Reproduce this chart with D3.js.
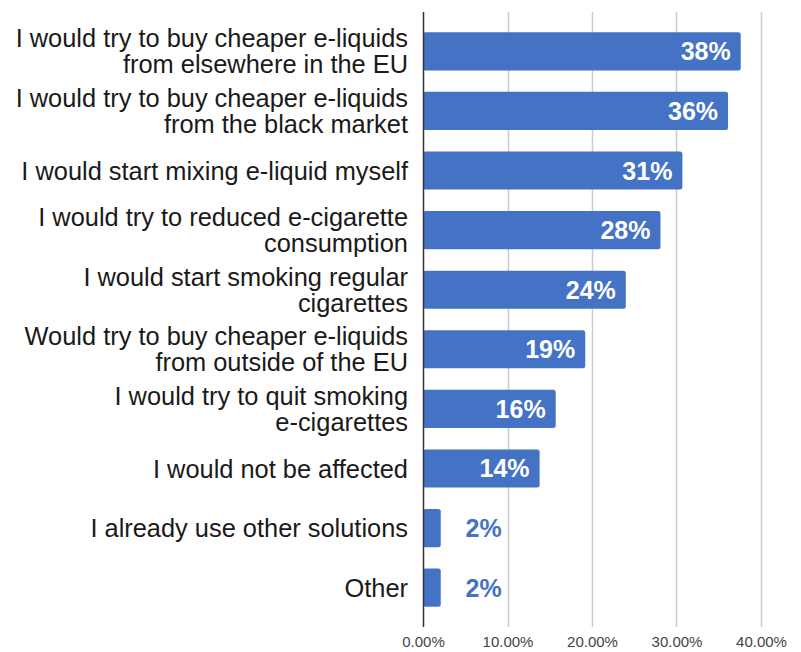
<!DOCTYPE html>
<html>
<head>
<meta charset="utf-8">
<script src="https://cdn.jsdelivr.net/npm/d3@7"></script>
<style>
  body { margin: 0; background: #fff; }
  svg { display: block; font-family: "Liberation Sans", Arial, sans-serif; }
  .cat { font-size: 25.4px; fill: #1a1a1a; }
  .tick text { font-size: 15px; fill: #444; font-family: "Liberation Sans", Arial, sans-serif; }
</style>
</head>
<body>
<svg width="801" height="652"></svg>
<script>
// answers, one entry per bar (line breaks as shown in the chart)
var categories = [
  "I would try to buy cheaper e-liquids\nfrom elsewhere in the EU",
  "I would try to buy cheaper e-liquids\nfrom the black market",
  "I would start mixing e-liquid myself",
  "I would try to reduced e-cigarette\nconsumption",
  "I would start smoking regular\ncigarettes",
  "Would try to buy cheaper e-liquids\nfrom outside of the EU",
  "I would try to quit smoking\ne-cigarettes",
  "I would not be affected",
  "I already use other solutions",
  "Other"
];
var shares = [0.376, 0.361, 0.307, 0.281, 0.240, 0.192, 0.157, 0.138, 0.021, 0.021];
var tickValues = [0, 0.1, 0.2, 0.3, 0.4];

var data = categories.map(function(c, i) { return {cat: c, value: shares[i]}; });

var svg = d3.select("svg");
var blue = "#4472c4";

var x = d3.scaleLinear().domain([0, 0.4]).range([423, 761]);
var y = d3.scaleBand()
  .domain(categories)
  .range([12, 627])
  .paddingInner(0.36)
  .paddingOuter(0.34);

// gridlines
svg.append("g").selectAll("line")
  .data(tickValues.slice(1))
  .enter()
  .append("line")
  .attr("x1", function(d) { return Math.round(x(d)) + 0.5; })
  .attr("x2", function(d) { return Math.round(x(d)) + 0.5; })
  .attr("y1", 12)
  .attr("y2", 627)
  .attr("stroke", "#cccccc")
  .attr("stroke-width", 1.5);

// bottom tick labels
var xAxis = svg.append("g")
  .attr("transform", "translate(0,627)")
  .call(d3.axisBottom(x).tickValues(tickValues).tickFormat(d3.format(".2%")).tickSize(0).tickPadding(9));
xAxis.select(".domain").remove();

// bars
svg.append("g").selectAll("rect")
  .data(data)
  .enter()
  .append("rect")
  .attr("x", x(0))
  .attr("y", function(d) { return y(d.cat); })
  .attr("width", function(d) { return x(d.value) - x(0); })
  .attr("height", y.bandwidth())
  .attr("rx", 2.5)
  .attr("fill", blue);

// baseline
svg.append("line")
  .attr("x1", x(0) + 0.5).attr("x2", x(0) + 0.5)
  .attr("y1", 12).attr("y2", 627)
  .attr("stroke", "#333")
  .attr("stroke-width", 1.5);

// value labels
var fmt = d3.format(".0%");
svg.append("g").selectAll("text")
  .data(data)
  .enter()
  .append("text")
  .attr("x", function(d) {
    var w = x(d.value) - x(0);
    return w > 60 ? x(d.value) - 10 : x(d.value) + 61;
  })
  .attr("y", function(d) { return y(d.cat) + y.bandwidth() / 2; })
  .attr("dy", "0.36em")
  .attr("text-anchor", "end")
  .style("font-size", "25px")
  .style("font-weight", "bold")
  .attr("fill", function(d) { return x(d.value) - x(0) > 60 ? "#fff" : blue; })
  .text(function(d) { return fmt(d.value); });

// category labels
var lineH = 26;
var cats = svg.append("g").selectAll("text")
  .data(data)
  .enter()
  .append("text")
  .attr("class", "cat")
  .attr("text-anchor", "end")
  .attr("y", function(d) { return y(d.cat) + y.bandwidth() / 2; });

cats.each(function(d) {
  var lines = d.cat.split("\n");
  var t = d3.select(this);
  var y0 = y(d.cat) + y.bandwidth() / 2 - (lines.length - 1) * lineH / 2;
  lines.forEach(function(l, i) {
    t.append("tspan")
      .attr("x", 408)
      .attr("y", y0 + i * lineH)
      .attr("dy", "0.36em")
      .text(l);
  });
});
</script>
</body>
</html>
